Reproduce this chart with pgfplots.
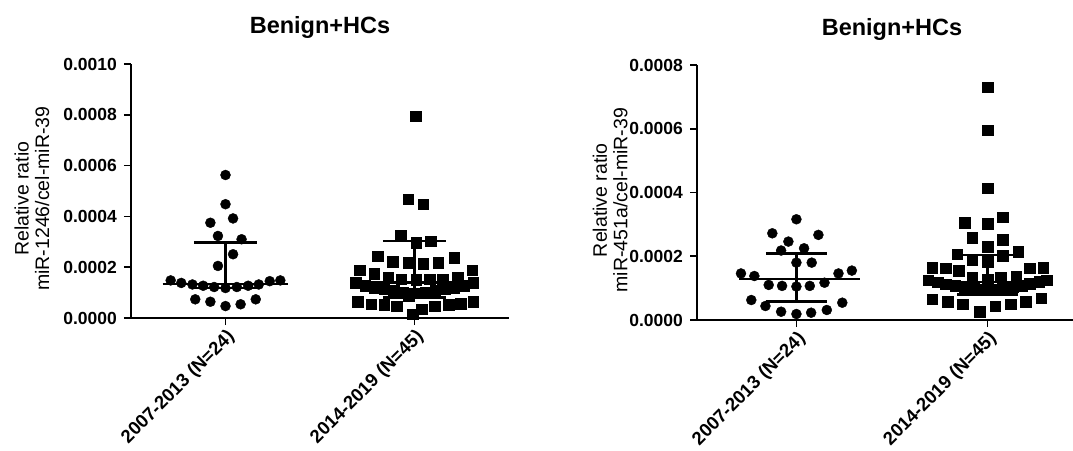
\documentclass[border=0pt]{standalone}
\usepackage{pgfplots}
\pgfplotsset{compat=1.18}
\usepackage{fontspec}
\setmainfont{Liberation Sans}
\newcommand{\tickfont}{\bfseries\fontsize{17.5}{18}\selectfont}
\newcommand{\xtickfont}{\bfseries\fontsize{18.5}{19}\selectfont}
\newcommand{\titlefont}{\bfseries\fontsize{23.5}{25}\selectfont}
\newcommand{\labfont}{\fontsize{19.5}{20.5}\selectfont}
\pgfplotsset{
  gp/.style={
    scale only axis,
    anchor=south west,
    axis x line*=bottom, axis y line*=left,
    axis line style={-, line width=1.6pt},
    tick style={line width=1.6pt, black},
    major tick length=7pt,
    tick align=outside,
    xtick={1,2},
    xticklabels={2007-2013 (N=24), 2014-2019 (N=45)},
    xticklabel style={font=\xtickfont, rotate=45, anchor=north east, inner sep=2pt},
    scaled y ticks=false,
    /pgf/number format/assume math mode=true,
    yticklabel={\pgfmathprintnumber[fixed,fixed zerofill,precision=4]{\tick}},
    yticklabel style={font=\tickfont, inner sep=2pt, xshift=-5pt},
    ylabel style={font=\labfont, align=center},
    title style={font=\titlefont, at={(axis description cs:0.5,1)}, anchor=base, yshift=24pt},
    clip=false,
  },
  circ/.style={only marks, mark=*, mark size=5pt, black, mark options={fill=black}},
  sq/.style={only marks, mark=square*, mark size=5.3pt, black, mark options={fill=black}},
  bar/.style={black, line width=2.4pt, no marks},
}
\begin{document}
\begin{tikzpicture}
% ---------------- Left panel ----------------
\begin{axis}[gp,
  at={(131pt,132pt)}, width=378pt, height=254pt,
  xmin=0.5, xmax=2.5, ymin=0, ymax=0.0010,
  ytick={0,0.0002,0.0004,0.0006,0.0008,0.0010},
  title={Benign+HCs},
  ylabel={Relative ratio\\miR-1246/cel-miR-39},
  ylabel style={at={(axis description cs:-0.262,0.47)}, anchor=center},
]
\addplot[circ] coordinates {
(1.00,0.000563) (1.00,0.000448) (0.92,0.000375) (1.04,0.000392)
(0.96,0.000323) (1.085,0.000310) (1.04,0.000251) (0.96,0.000205)
(0.71,0.000148) (0.766,0.000138) (0.825,0.000132) (0.882,0.000127)
(0.94,0.000122) (1.00,0.000118) (1.06,0.000122) (1.12,0.000127)
(1.176,0.000132) (1.234,0.000145) (1.29,0.000148)
(0.84,0.0000735) (0.92,0.000064) (1.00,0.000047) (1.08,0.000054) (1.16,0.0000735)
};
\addplot[sq] coordinates {
(2.005,0.000795) (1.967,0.000467) (2.046,0.000448)
(1.926,0.000323) (2.01,0.000297) (2.086,0.000303)
(1.804,0.000244) (1.884,0.000222) (1.967,0.000218) (2.046,0.000214) (2.125,0.000218) (2.21,0.000237)
(1.71,0.000188) (1.787,0.000175) (1.86,0.000159) (1.93,0.000152) (2.01,0.000150)
(2.08,0.000152) (2.15,0.000152) (2.23,0.000159) (2.305,0.000188)
(1.69,0.000139) (1.74,0.000128) (1.79,0.000120) (1.84,0.000113) (1.89,0.000107)
(1.94,0.000102) (2.00,0.000098) (2.06,0.000102) (2.11,0.000107) (2.16,0.000113)
(2.21,0.000120) (2.26,0.000128) (2.31,0.000139) (1.97,0.000088)
(1.70,0.000063) (1.77,0.000054) (1.84,0.000052) (1.905,0.000047) (2.037,0.000034)
(2.106,0.000047) (2.18,0.000052) (2.245,0.000057) (2.31,0.000063)
(1.99,0.000015)
};
% median and IQR, group 1
\addplot[bar] coordinates {(0.667,0.000133) (1.333,0.000133)};
\addplot[bar] coordinates {(1,0.000118) (1,0.000297)};
\addplot[bar] coordinates {(0.833,0.000297) (1.167,0.000297)};
\addplot[bar] coordinates {(0.833,0.000118) (1.167,0.000118)};
% median and IQR, group 2
\addplot[bar] coordinates {(1.667,0.000140) (2.333,0.000140)};
\addplot[bar] coordinates {(2,0.000080) (2,0.000303)};
\addplot[bar] coordinates {(1.833,0.000303) (2.167,0.000303)};
\addplot[bar] coordinates {(1.833,0.000080) (2.167,0.000080)};
\end{axis}
% ---------------- Right panel ----------------
\begin{axis}[gp,
  at={(697pt,130pt)}, width=390pt, height=255pt,
  xmin=0.48, xmax=2.52, ymin=0, ymax=0.0008,
  ytick={0,0.0002,0.0004,0.0006,0.0008},
  title={Benign+HCs},
  ylabel={Relative ratio\\miR-451a/cel-miR-39},
  ylabel style={at={(axis description cs:-0.223,0.47)}, anchor=center},
]
\addplot[circ] coordinates {
(1.00,0.000316) (0.874,0.000272) (1.115,0.000267) (0.958,0.000246)
(0.92,0.000218) (1.04,0.000225) (1.00,0.000180) (1.08,0.000180)
(0.71,0.000146) (0.78,0.000138) (1.22,0.000146) (1.29,0.000155)
(0.855,0.000110) (0.925,0.000107) (1.00,0.000105) (1.07,0.000107) (1.147,0.000117)
(0.764,0.0000627) (0.838,0.0000439) (1.24,0.0000543)
(0.92,0.000026) (1.00,0.0000188) (1.077,0.0000229) (1.159,0.0000314)
};
\addplot[sq] coordinates {
(2.00,0.000730) (2.00,0.000596) (2.00,0.000413)
(1.88,0.000305) (2.00,0.000303) (2.08,0.000322)
(1.92,0.000259) (2.08,0.000251) (2.00,0.000230)
(1.84,0.000207) (2.16,0.000214)
(1.92,0.000188) (2.00,0.000183) (2.08,0.000201)
(1.71,0.000165) (1.78,0.000162) (1.85,0.000155) (2.22,0.000163) (2.29,0.000165)
(1.92,0.000134) (2.00,0.000128) (2.07,0.000134) (2.15,0.000138)
(1.69,0.000125) (1.74,0.000118) (1.78,0.000112) (1.83,0.000107) (1.88,0.000103)
(1.93,0.000100) (1.98,0.000097) (2.03,0.000097) (2.08,0.000100) (2.13,0.000104)
(2.18,0.000108) (2.22,0.000113) (2.27,0.000120) (2.31,0.000125)
(1.71,0.000065) (1.79,0.0000575) (1.87,0.000050) (2.04,0.0000439)
(2.12,0.000050) (2.20,0.0000575) (2.28,0.000068)
(1.96,0.000026)
};
% median and IQR, group 1
\addplot[bar] coordinates {(0.70,0.000128) (1.33,0.000128)};
\addplot[bar] coordinates {(1,0.0000575) (1,0.000209)};
\addplot[bar] coordinates {(0.84,0.000209) (1.16,0.000209)};
\addplot[bar] coordinates {(0.84,0.0000575) (1.16,0.0000575)};
% median and IQR, group 2
\addplot[bar] coordinates {(1.67,0.000120) (2.33,0.000120)};
\addplot[bar] coordinates {(2,0.000080) (2,0.000204)};
\addplot[bar] coordinates {(1.84,0.000204) (2.16,0.000204)};
\addplot[bar] coordinates {(1.84,0.000080) (2.16,0.000080)};
\end{axis}
\pgfresetboundingbox
\useasboundingbox (0,0) rectangle (1073pt,450pt);
\end{tikzpicture}
\end{document}
